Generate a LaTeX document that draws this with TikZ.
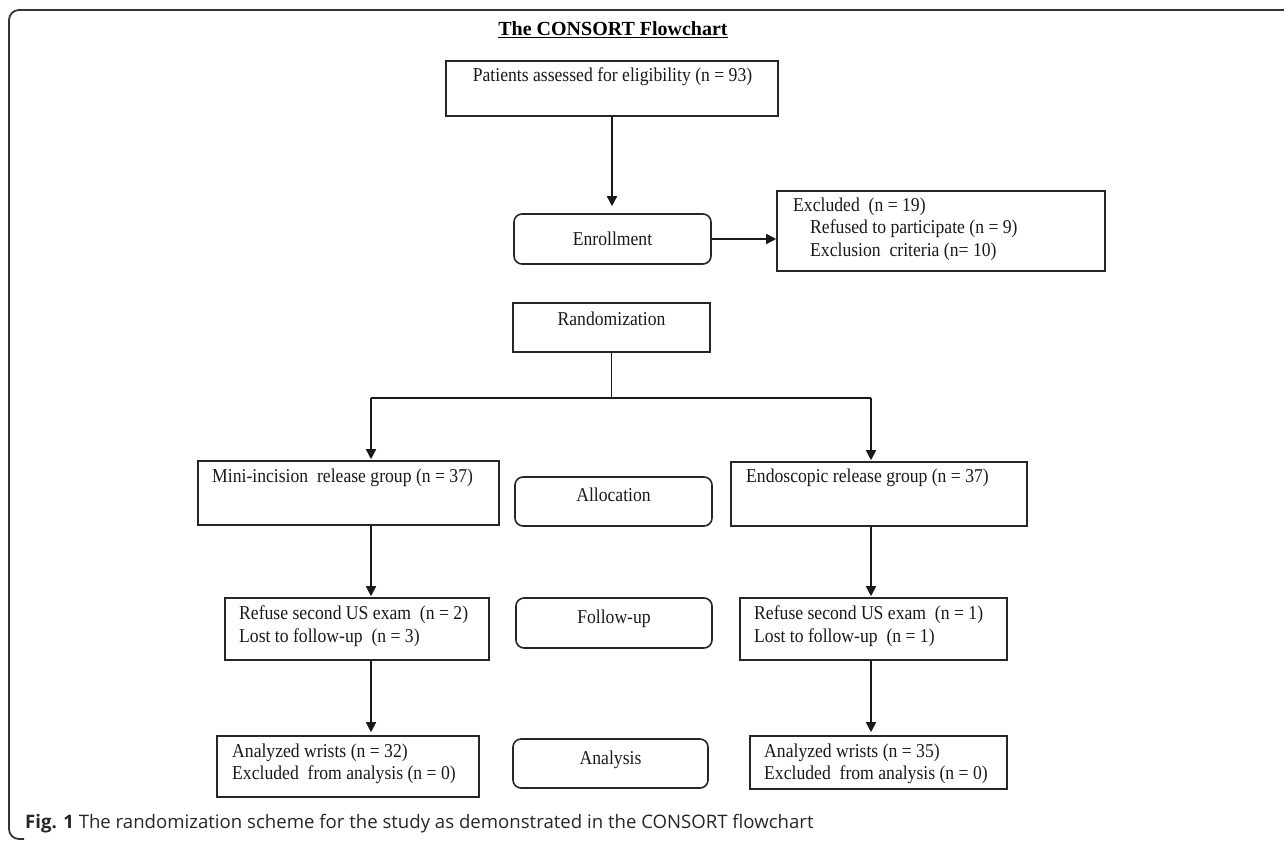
\documentclass[tikz,border=0pt]{standalone}
\usepackage{fontspec}
\setmainfont{Liberation Serif}
\newfontfamily\boxfont{Liberation Serif}[FakeStretch=0.9]
\newfontfamily\capfont{Open Sans}
\usetikzlibrary{arrows.meta}
\begin{document}
\begin{tikzpicture}[x=1pt,y=-1pt,
  box/.style={draw=black!85, line width=1.6pt, rectangle, inner sep=0pt},
  rbox/.style={box, rounded corners=8pt},
  txt/.style={font=\boxfont\fontsize{19.6}{22}\selectfont, inner sep=0pt, text=black!90},
  conn/.style={line width=1.6pt, draw=black!90},
  arr/.style={conn, -{Triangle[length=10pt,width=10pt]}}]
\useasboundingbox (0,0) rectangle (1284,841);
% frame
\draw[line width=1.8pt, black!80, rounded corners=10pt] (1300,10) -- (9,10) -- (9,839) -- (24,839);
% title
\node[font=\fontsize{20}{24}\selectfont\bfseries, inner sep=0pt, anchor=mid] (title) at (613,33) {\underline{The CONSORT Flowchart}};
% boxes
\node[box, minimum width=332, minimum height=55] (pat) at (612,88.5) {};
\node[txt, anchor=mid] (patT) at (612.5,79) {Patients assessed for eligibility (n = 93)};
\node[rbox, minimum width=197, minimum height=50, txt] (enr) at (612.5,239) {Enrollment};
\node[box, minimum width=328, minimum height=80] (exc) at (941,231) {};
\node[txt, anchor=mid west] (excT1) at (793,209) {Excluded\ \ (n = 19)};
\node[txt, anchor=mid west] (excT2) at (810,231) {Refused to participate (n = 9)};
\node[txt, anchor=mid west] (excT3) at (810,254) {Exclusion\ \ criteria (n= 10)};
\node[box, minimum width=197, minimum height=49] (rand) at (611.5,327.5) {};
\node[txt, anchor=mid] (randT) at (611.5,323) {Randomization};
\node[box, minimum width=301, minimum height=64] (mini) at (348.5,493) {};
\node[txt, anchor=mid west] (miniT) at (212,480) {Mini-incision\ \ release group (n = 37)};
\node[rbox, minimum width=197, minimum height=49] (alloc) at (613.5,501.5) {};
\node[txt, anchor=mid] (allocT) at (613.5,499) {Allocation};
\node[box, minimum width=296, minimum height=64] (endo) at (879,494) {};
\node[txt, anchor=mid west] (endoT) at (746,480) {Endoscopic release group (n = 37)};
\node[box, minimum width=264, minimum height=62] (refL) at (357,629) {};
\node[txt, anchor=mid west] (refLT1) at (239,617) {Refuse second US exam\ \ (n = 2)};
\node[txt, anchor=mid west] (refLT2) at (239,640) {Lost to follow-up\ \ (n = 3)};
\node[rbox, minimum width=196, minimum height=50] (fu) at (614,623) {};
\node[txt, anchor=mid] (fuT) at (614,621) {Follow-up};
\node[box, minimum width=267, minimum height=62] (refR) at (873.5,629) {};
\node[txt, anchor=mid west] (refRT1) at (754,617) {Refuse second US exam\ \ (n = 1)};
\node[txt, anchor=mid west] (refRT2) at (754,640) {Lost to follow-up\ \ (n = 1)};
\node[box, minimum width=262, minimum height=61] (anL) at (348,766.5) {};
\node[txt, anchor=mid west] (anLT1) at (232,755) {Analyzed wrists (n = 32)};
\node[txt, anchor=mid west] (anLT2) at (232,777) {Excluded\ \ from analysis (n = 0)};
\node[rbox, minimum width=195, minimum height=49] (ana) at (610.5,763.5) {};
\node[txt, anchor=mid] (anaT) at (610.5,762) {Analysis};
\node[box, minimum width=257, minimum height=53] (anR) at (878.5,762.5) {};
\node[txt, anchor=mid west] (anRT1) at (764,755) {Analyzed wrists (n = 35)};
\node[txt, anchor=mid west] (anRT2) at (764,777) {Excluded\ \ from analysis (n = 0)};
% connectors
\coordinate (sL) at (371,398);
\coordinate (sR) at (871,398);
\draw[arr, shorten >=7pt] (pat.south) -- (pat.south |- enr.north);
\draw[arr] (enr.east) -- (enr.east -| exc.west);
\draw[conn, line width=1.2pt] (rand.south) -- (rand.south |- sL);
\draw[conn] (sL) -- (sR);
\draw[arr, shorten >=1pt] (sL) -- (sL |- mini.north);
\draw[arr, shorten >=1pt] (sR) -- (sR |- endo.north);
\draw[arr, shorten >=1pt] (sL |- mini.south) -- (sL |- refL.north);
\draw[arr, shorten >=1pt] (sR |- endo.south) -- (sR |- refR.north);
\draw[arr, shorten >=3pt] (sL |- refL.south) -- (sL |- anL.north);
\draw[arr, shorten >=3pt] (sR |- refR.south) -- (sR |- anR.north);
% caption
\node[font=\capfont\fontsize{18.6}{22}\selectfont, text=black!85, anchor=mid west, inner sep=0pt] (cap) at (25,826) {{\bfseries Fig. 1} The randomization scheme for the study as demonstrated in the CONSORT flowchart};
\end{tikzpicture}
\end{document}
